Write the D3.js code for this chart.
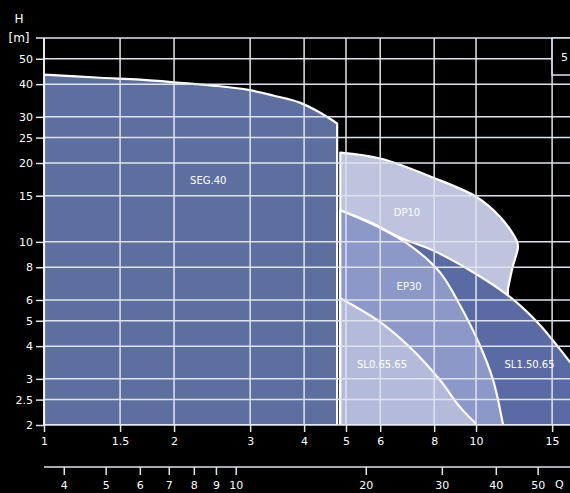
<!DOCTYPE html>
<html>
<head>
<meta charset="utf-8">
<script src="https://cdn.jsdelivr.net/npm/d3@7"></script>
<style>
  html, body { margin: 0; padding: 0; background: #000; overflow: hidden; }
  svg { display: block; }
  text { font-family: "DejaVu Sans", Verdana, sans-serif; fill: #fff; }
</style>
</head>
<body>
<div id="chart"></div>
<script>
// axis ticks
const xTicks = [1, 1.5, 2, 3, 4, 5, 6, 8, 10, 15];
const yTicks = [2, 2.5, 3, 4, 5, 6, 8, 10, 15, 20, 25, 30, 40, 50];
const q2Ticks = [4, 5, 6, 7, 8, 9, 10, 20, 30, 40, 50];

// pump curves: Q [l/s], H [m]
const segQ = [1, 1.35, 1.67, 2.06, 2.46, 2.95, 3.39, 3.91, 4.36, 4.77];
const segH = [43.5, 42.3, 41.6, 40.5, 39.5, 38.1, 36.2, 34.0, 31.1, 28.3];

const dp10Q = [4.85, 6.0, 7.95, 10.05, 11.4, 12.1, 12.45, 12.5, 12.15, 11.85];
const dp10H = [21.9, 20.8, 17.6, 14.8, 12.4, 10.9, 10.0, 9.5, 8.0, 6.6];

const sl150Q = [4.85, 5.68, 6.67, 7.95, 9.68, 12.0, 14.07, 16.5, 17.5];
const sl150H = [13.2, 11.9, 10.4, 9.28, 7.79, 6.15, 4.81, 3.48, 3.1];

const ep30Q = [4.85, 6.0, 7.03, 8.25, 9.18, 10.2, 10.95, 11.55];
const ep30H = [13.2, 11.3, 9.7, 7.65, 5.73, 4.04, 2.97, 2.0];

const sl065Q = [4.85, 6.0, 7.03, 8.25, 9.18, 9.95];
const sl065H = [6.09, 4.94, 3.96, 2.97, 2.34, 2.04];

const width = 570, height = 493;
const svg = d3.select("#chart").append("svg")
  .attr("width", width).attr("height", height);

const x = d3.scaleLog().domain([1, 16.5]).range([44, 570]);
const y = d3.scaleLog().domain([2, 60]).range([425, 38]);
// second flow axis in m3/h
const x2 = d3.scaleLog().domain([3.6, 16.5 * 3.6]).range([44, 570]);

svg.append("clipPath").attr("id", "plot")
  .append("rect").attr("x", 44).attr("y", 38).attr("width", 526).attr("height", 387);

const line = d3.line().x(d => x(d[0])).y(d => y(d[1])).curve(d3.curveCatmullRom);

function regionPath(qs, hs) {
  const pts = qs.map((q, i) => [q, hs[i]]);
  const first = pts[0], last = pts[pts.length - 1];
  return line(pts) +
    "L" + x(last[0]) + "," + y(2) +
    "L" + x(first[0]) + "," + y(2) + "Z";
}

const regions = [
  { q: segQ, h: segH, fill: "#5c6f9f" },
  { q: dp10Q, h: dp10H, fill: "#bec3de" },
  { q: sl150Q, h: sl150H, fill: "#5a6ba3" },
  { q: ep30Q, h: ep30H, fill: "#8c98c8" },
  { q: sl065Q, h: sl065H, fill: "#b4bbda" },
];

const plot = svg.append("g").attr("clip-path", "url(#plot)");

// each region: fill then white outline, later ones cover earlier ones
regions.forEach(r => {
  plot.append("path")
    .attr("d", regionPath(r.q, r.h))
    .attr("fill", r.fill)
    .attr("stroke", "#fff")
    .attr("stroke-width", 2.2)
    .attr("stroke-linejoin", "round");
});

// grid
const grid = svg.append("g").attr("stroke", "#dfe3ec").attr("stroke-width", 1.5);
grid.selectAll("line.v")
  .data(xTicks)
  .enter()
  .append("line")
  .attr("x1", d => x(d)).attr("x2", d => x(d))
  .attr("y1", y(60)).attr("y2", y(2));
grid.selectAll("line.h")
  .data(yTicks.concat([60]))
  .enter()
  .append("line")
  .attr("x1", x(1)).attr("x2", width)
  .attr("y1", d => y(d)).attr("y2", d => y(d));

// labels
const labels = [
  { t: "SEG.40", q: 2.4, h: 17.1 },
  { t: "DP10", q: 6.92, h: 13.0 },
  { t: "EP30", q: 7.0, h: 6.78 },
  { t: "SL0.65.65", q: 6.06, h: 3.39 },
  { t: "SL1.50.65", q: 13.3, h: 3.39 },
];
svg.selectAll("text.lab")
  .data(labels)
  .enter()
  .append("text")
  .attr("x", d => x(d.q))
  .attr("y", d => y(d.h))
  .attr("dy", "0.35em")
  .attr("text-anchor", "middle")
  .attr("font-size", 10)
  .text(d => d.t);

// y axis
const yAxis = svg.append("g")
  .attr("transform", "translate(" + x(1) + ",0)")
  .call(d3.axisLeft(y).tickValues(yTicks).tickSize(8).tickFormat(d => d));
yAxis.select(".domain").remove();
yAxis.selectAll(".tick line").attr("stroke", "#dfe3ec").attr("stroke-width", 1.5);
yAxis.selectAll(".tick text").attr("font-size", 11).attr("x", -11).attr("fill", "#fff");
svg.append("line")
  .attr("x1", x(1)).attr("x2", x(1)).attr("y1", y(60)).attr("y2", y(2))
  .attr("stroke", "#fff").attr("stroke-width", 1.5);
svg.append("line")
  .attr("x1", 36).attr("x2", x(1)).attr("y1", y(60)).attr("y2", y(60))
  .attr("stroke", "#dfe3ec").attr("stroke-width", 1.5);

svg.append("text").attr("x", 19).attr("y", 19).attr("dy", "0.35em")
  .attr("text-anchor", "middle").attr("font-size", 12).text("H");
svg.append("text").attr("x", 19).attr("y", 38).attr("dy", "0.35em")
  .attr("text-anchor", "middle").attr("font-size", 12).text("[m]");

// x axis (l/s)
const xAxis = svg.append("g")
  .attr("transform", "translate(0," + y(2) + ")")
  .call(d3.axisBottom(x).tickValues(xTicks).tickSize(7).tickFormat(d => d));
xAxis.select(".domain").remove();
xAxis.selectAll(".tick line").attr("stroke", "#dfe3ec").attr("stroke-width", 1.5);
xAxis.selectAll(".tick text").attr("font-size", 11).attr("y", 12).attr("fill", "#fff");

// second x axis (m3/h)
const x2Axis = svg.append("g")
  .attr("transform", "translate(0,467)")
  .call(d3.axisBottom(x2).tickValues(q2Ticks).tickSize(8).tickFormat(d => d));
x2Axis.select(".domain").remove();
x2Axis.selectAll(".tick line").attr("stroke", "#dfe3ec").attr("stroke-width", 1.5);
x2Axis.selectAll(".tick text").attr("font-size", 11).attr("y", 14).attr("fill", "#fff");
svg.append("line")
  .attr("x1", x(1)).attr("x2", width).attr("y1", 467).attr("y2", 467)
  .attr("stroke", "#dfe3ec").attr("stroke-width", 1.5);
svg.append("text").attr("x", 555).attr("y", 484).attr("dy", "0.35em")
  .attr("font-size", 11).text("Q");

// legend box top right (cut off by the window)
svg.append("rect")
  .attr("x", x(15)).attr("y", y(60)).attr("width", 40).attr("height", 75 - y(60))
  .attr("fill", "#000").attr("stroke", "#dfe3ec").attr("stroke-width", 1.5);
svg.append("text").attr("x", 561).attr("y", 57).attr("dy", "0.35em")
  .attr("font-size", 11).text("5");
</script>
</body>
</html>
